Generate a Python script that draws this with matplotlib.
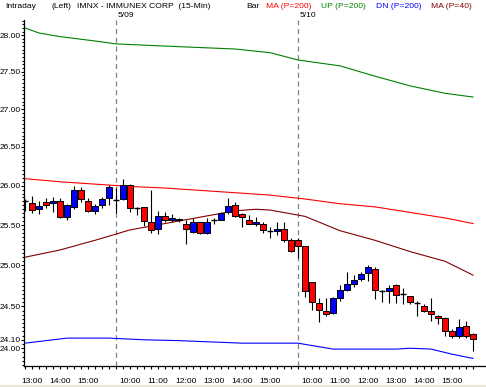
import matplotlib
matplotlib.use('Agg')
import matplotlib.pyplot as plt
import matplotlib.transforms as mtransforms
from matplotlib.ticker import FixedLocator, FixedFormatter, NullFormatter
from matplotlib.patches import Rectangle
import numpy as np

# ---------------- data ----------------
opens = [25.81, 25.78, 25.70, 25.79, 25.78, 25.81, 25.60, 25.73, 25.95, 25.80,
         25.68, 25.75, 25.84, 25.82, 25.83, 26.01, 25.72, 25.73, 25.54, 25.45,
         25.62, 25.56, 25.58, 25.51, 25.41, 25.54, 25.40, 25.56, 25.57, 25.66,
         25.75, 25.64, 25.57, 25.51, 25.52, 25.43, 25.43, 25.45, 25.31, 25.32,
         25.24, 24.79, 24.54, 24.44, 24.42, 24.60, 24.70, 24.77, 24.83, 24.90,
         24.95, 24.69, 24.69, 24.76, 24.65, 24.62, 24.54, 24.51, 24.45, 24.39,
         24.36, 24.21, 24.15, 24.27, 24.17]
highs = [25.83, 25.87, 25.80, 25.84, 25.85, 25.84, 25.77, 26.00, 25.98, 25.84,
         25.77, 25.85, 26.01, 25.97, 26.08, 26.02, 25.73, 25.73, 25.95, 25.68,
         25.67, 25.64, 25.59, 25.57, 25.59, 25.54, 25.59, 25.59, 25.67, 25.84,
         25.79, 25.65, 25.63, 25.60, 25.54, 25.48, 25.54, 25.54, 25.34, 25.34,
         25.24, 24.80, 24.60, 24.60, 24.61, 24.76, 24.92, 24.88, 24.92, 25.00,
         24.98, 24.70, 24.76, 24.77, 24.72, 24.63, 24.56, 24.53, 24.60, 24.40,
         24.37, 24.23, 24.35, 24.33, 24.18]
lows = [25.68, 25.65, 25.64, 25.72, 25.66, 25.59, 25.57, 25.70, 25.79, 25.66,
        25.64, 25.71, 25.76, 25.65, 25.82, 25.66, 25.63, 25.49, 25.40, 25.39,
        25.54, 25.54, 25.54, 25.27, 25.40, 25.39, 25.39, 25.52, 25.57, 25.64,
        25.60, 25.48, 25.51, 25.49, 25.40, 25.34, 25.38, 25.29, 25.16, 25.09,
        24.61, 24.46, 24.31, 24.39, 24.41, 24.57, 24.69, 24.74, 24.81, 24.81,
        24.59, 24.55, 24.54, 24.54, 24.53, 24.53, 24.39, 24.43, 24.33, 24.29,
        24.14, 24.12, 24.12, 24.12, 23.97]
closes = [25.81, 25.69, 25.74, 25.76, 25.80, 25.60, 25.75, 25.95, 25.83, 25.68,
          25.74, 25.83, 25.98, 25.82, 26.01, 25.71, 25.72, 25.55, 25.44, 25.62,
          25.57, 25.59, 25.56, 25.45, 25.54, 25.40, 25.54, 25.56, 25.65, 25.74,
          25.62, 25.60, 25.52, 25.54, 25.44, 25.43, 25.45, 25.32, 25.18, 25.24,
          24.68, 24.55, 24.46, 24.41, 24.60, 24.70, 24.77, 24.82, 24.89, 24.98,
          24.70, 24.69, 24.72, 24.64, 24.65, 24.55, 24.54, 24.45, 24.41, 24.36,
          24.21, 24.15, 24.25, 24.15, 24.11]

ma200_idx = [0, 5, 10, 15, 20, 25, 30, 35, 40, 45, 50, 55, 60, 64]
ma200 = [26.09, 26.05, 26.02, 25.99, 25.97, 25.94, 25.91, 25.88, 25.83, 25.77,
         25.73, 25.66, 25.59, 25.52]

ma40_idx = [0, 5, 10, 15, 20, 25, 30, 33, 35, 40, 45, 50, 55, 60, 64]
ma40 = [25.10, 25.19, 25.31, 25.44, 25.52, 25.60, 25.68, 25.70, 25.69, 25.61,
        25.43, 25.31, 25.17, 25.05, 24.88]

up_idx = [0, 2, 5, 10, 13, 20, 30, 35, 39, 45, 50, 55, 60, 64]
up = [28.10, 28.03, 27.98, 27.92, 27.88, 27.85, 27.81, 27.76, 27.66, 27.58,
      27.44, 27.31, 27.21, 27.16]

dn_idx = [0, 3, 6, 12, 17, 22, 25, 31, 39, 44, 53, 55, 58, 61, 64]
dn = [24.06, 24.09, 24.12, 24.12, 24.10, 24.09, 24.08, 24.06, 24.06, 23.99,
      23.99, 24.00, 23.99, 23.93, 23.88]

hour_idx = [1, 5, 9, 15, 19, 23, 27, 31, 35, 41, 45, 49, 53, 57, 61]
hour_labels = ['13:00', '14:00', '15:00', '10:00', '11:00', '12:00', '13:00',
               '14:00', '15:00', '10:00', '11:00', '12:00', '13:00', '14:00',
               '15:00']
day_idx = [13, 39]
day_labels = ['5/09', '5/10']

ytick_vals = [24.00, 24.10, 24.50, 25.00, 25.50, 26.00, 26.50, 27.00, 27.50, 28.00]

# ---------------- figure ----------------
W, H = 486, 387
fig = plt.figure(figsize=(W / 100, H / 100), dpi=100)
fig.patch.set_facecolor('white')
fig.patches.append(Rectangle((0, 0), 1, 2 / H, transform=fig.transFigure,
                             color='#ece9d8', zorder=0))

left_px, right_px, top_px, bot_px = 24, 486, 20, 366
ax = fig.add_axes([left_px / W, (H - bot_px) / H, (right_px - left_px) / W,
                   (bot_px - top_px) / H])
ax.set_facecolor('white')

font = 'Liberation Sans'
fs = 6.1

n = len(opens)
x = np.arange(n)

# lines
lw = 0.8
ax.plot(up_idx, up, color='#008000', lw=lw, zorder=2)
ax.plot(ma200_idx, ma200, color='#ff0000', lw=lw, zorder=2)
ax.plot(dn_idx, dn, color='#0000ff', lw=lw, zorder=2)
ax.plot(ma40_idx, ma40, color='#800000', lw=lw, zorder=2)

# day separators
for d in day_idx:
    ax.axvline(d, color='#808080', lw=0.9, ls=(0, (4, 3)), zorder=1)

# candles
o = np.array(opens); h = np.array(highs); l = np.array(lows); c = np.array(closes)
ax.vlines(x, l, h, color='black', lw=0.8, zorder=3)
bw = 0.72
for i in range(n):
    if abs(c[i] - o[i]) < 1e-9:
        ax.hlines(o[i], x[i] - bw / 2, x[i] + bw / 2, color='black', lw=1.0, zorder=4)
    else:
        col = '#0000ff' if c[i] > o[i] else '#ff0000'
        ax.bar(x[i], abs(c[i] - o[i]), bottom=min(o[i], c[i]), width=bw,
               color=col, edgecolor='black', linewidth=0.7, zorder=4)

# axes scales
ax.set_yscale('log')
ax.set_ylim(23.791, 28.21)
ax.set_xlim(-1 / 7, -1 / 7 + (right_px - left_px) / 7)

ax.yaxis.set_major_locator(FixedLocator(ytick_vals))
ax.yaxis.set_major_formatter(FixedFormatter(['%.2f' % v for v in ytick_vals]))
ax.yaxis.set_minor_locator(FixedLocator(list(np.arange(23.80, 28.21, 0.05))))
ax.yaxis.set_minor_formatter(NullFormatter())

ax.xaxis.set_major_locator(FixedLocator(hour_idx))
ax.xaxis.set_major_formatter(FixedFormatter(hour_labels))
ax.xaxis.set_minor_locator(FixedLocator(list(range(n))))

ax.tick_params(axis='y', which='major', direction='out', length=2.2, width=0.8,
               pad=0.3, labelsize=6.0)
ax.tick_params(axis='y', which='minor', direction='out', length=1.2, width=0.8)
ax.tick_params(axis='x', which='major', direction='out', length=2.5, width=0.8,
               pad=6, labelsize=fs)
ax.tick_params(axis='x', which='minor', direction='out', length=2.5, width=0.8)
for lab in ax.get_xticklabels() + ax.get_yticklabels():
    lab.set_fontfamily(font)

for s in ['top', 'right']:
    ax.spines[s].set_visible(False)
for s in ['left', 'bottom']:
    ax.spines[s].set_linewidth(0.9)
    ax.spines[s].set_color('black')

# header texts
def ftext(px, py, s, color='black'):
    fig.text(px / W, 1 - py / H, s, color=color, fontsize=fs, family=font,
             ha='left', va='center')

ftext(5, 6, 'Intraday')
ftext(51, 6, '(Left)')
ftext(77, 6, 'IMNX - IMMUNEX CORP  (15-Min)')
ftext(246, 6, 'Bar')
ftext(266, 6, 'MA (P=200)', '#ff0000')
ftext(321, 6, 'UP (P=200)', '#008000')
ftext(376, 6, 'DN (P=200)', '#0000ff')
ftext(431, 6, 'MA (P=40)', '#800000')

trans = mtransforms.blended_transform_factory(ax.transData, fig.transFigure)
for d, lab in zip(day_idx, day_labels):
    ax.text(d + 0.25, 1 - 15.5 / H, lab, transform=trans, fontsize=fs,
            family=font, ha='left', va='center', color='black')

fig.savefig('out.png', dpi=100, facecolor='white')
